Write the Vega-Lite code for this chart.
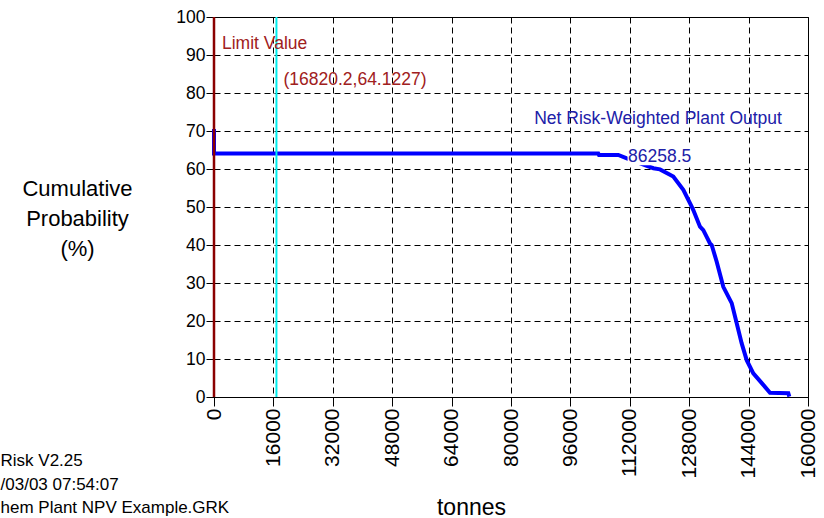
{
  "$schema": "https://vega.github.io/schema/vega-lite/v6.json",
  "width": 594,
  "height": 380,
  "autosize": {"type": "none"},
  "padding": {"left": 214, "top": 17, "right": 16, "bottom": 121},
  "background": "white",
  "config": {
    "font": "Liberation Sans",
    "view": {"stroke": "black", "strokeWidth": 1},
    "axis": {
      "domainColor": "black",
      "tickColor": "black",
      "labelColor": "black",
      "titleColor": "black",
      "titleFontWeight": "normal",
      "gridColor": "black",
      "gridOpacity": 1,
      "gridDash": [6, 4],
      "gridWidth": 1,
      "labelFlush": false,
      "labelOverlap": false
    }
  },
  "layer": [
    {
      "data": {"values": [
        {"i": 0, "tonnes": 0, "p": 70.5},
        {"i": 1, "tonnes": 0, "p": 64.1},
        {"i": 2, "tonnes": 103500, "p": 64.1},
        {"i": 3, "tonnes": 103700, "p": 63.7},
        {"i": 4, "tonnes": 108900, "p": 63.7},
        {"i": 5, "tonnes": 111200, "p": 62.8},
        {"i": 6, "tonnes": 118350, "p": 60.2},
        {"i": 7, "tonnes": 120135, "p": 59.9},
        {"i": 8, "tonnes": 123717, "p": 58.0},
        {"i": 9, "tonnes": 126411, "p": 54.5},
        {"i": 10, "tonnes": 128673, "p": 50.1},
        {"i": 11, "tonnes": 129104, "p": 49.2},
        {"i": 12, "tonnes": 130909, "p": 44.8},
        {"i": 13, "tonnes": 131798, "p": 43.9},
        {"i": 14, "tonnes": 133603, "p": 40.4},
        {"i": 15, "tonnes": 134061, "p": 40.0},
        {"i": 16, "tonnes": 135407, "p": 35.6},
        {"i": 17, "tonnes": 137185, "p": 29.0},
        {"i": 18, "tonnes": 139448, "p": 24.7},
        {"i": 19, "tonnes": 140795, "p": 19.4},
        {"i": 20, "tonnes": 142141, "p": 14.1},
        {"i": 21, "tonnes": 143488, "p": 9.7},
        {"i": 22, "tonnes": 145266, "p": 6.2},
        {"i": 23, "tonnes": 147960, "p": 3.2},
        {"i": 24, "tonnes": 149764, "p": 1.1},
        {"i": 25, "tonnes": 154694, "p": 1.0},
        {"i": 26, "tonnes": 154963, "p": 0.1}
      ]},
      "mark": {"type": "line", "color": "#0000ff", "strokeWidth": 4},
      "encoding": {
        "x": {
          "field": "tonnes",
          "type": "quantitative",
          "scale": {"domain": [0, 160000], "nice": false, "zero": false},
          "axis": {
            "values": [0, 16000, 32000, 48000, 64000, 80000, 96000, 112000, 128000, 144000, 160000],
            "format": "d",
            "labelAngle": 270,
            "labelFontSize": 21,
            "labelPadding": 2,
            "tickSize": 9,
            "grid": true,
            "title": "tonnes",
            "titleFontSize": 23,
            "titleX": 257,
            "titleY": 117,
            "titleAlign": "center",
            "titleBaseline": "alphabetic"
          }
        },
        "y": {
          "field": "p",
          "type": "quantitative",
          "scale": {"domain": [0, 100], "nice": false},
          "axis": {
            "values": [0, 10, 20, 30, 40, 50, 60, 70, 80, 90, 100],
            "labelFontSize": 17.5,
            "labelPadding": 1,
            "tickSize": 8,
            "grid": true,
            "title": ["Cumulative", "Probability", "(%)"],
            "titleFontSize": 22,
            "titleLineHeight": 30,
            "titleAngle": 0,
            "titleX": -137,
            "titleY": 178,
            "titleAlign": "center",
            "titleBaseline": "alphabetic"
          }
        },
        "order": {"field": "i", "type": "quantitative"}
      }
    },
    {
      "data": {"values": [{"tonnes": 0}]},
      "mark": {"type": "rule", "color": "#8b0000", "strokeWidth": 2.5},
      "encoding": {
        "x": {
          "field": "tonnes",
          "type": "quantitative",
          "scale": {"domain": [0, 160000], "nice": false, "zero": false},
          "axis": {
            "values": [0, 16000, 32000, 48000, 64000, 80000, 96000, 112000, 128000, 144000, 160000],
            "format": "d",
            "labelAngle": 270,
            "labelFontSize": 21,
            "labelPadding": 2,
            "tickSize": 9,
            "grid": true,
            "title": "tonnes",
            "titleFontSize": 23,
            "titleX": 257,
            "titleY": 117,
            "titleAlign": "center",
            "titleBaseline": "alphabetic"
          }
        }
      }
    },
    {
      "data": {"values": [{"tonnes": 16820.2}]},
      "mark": {"type": "rule", "color": "#00eeee", "strokeWidth": 2},
      "encoding": {
        "x": {
          "field": "tonnes",
          "type": "quantitative",
          "scale": {"domain": [0, 160000], "nice": false, "zero": false},
          "axis": {
            "values": [0, 16000, 32000, 48000, 64000, 80000, 96000, 112000, 128000, 144000, 160000],
            "format": "d",
            "labelAngle": 270,
            "labelFontSize": 21,
            "labelPadding": 2,
            "tickSize": 9,
            "grid": true,
            "title": "tonnes",
            "titleFontSize": 23,
            "titleX": 257,
            "titleY": 117,
            "titleAlign": "center",
            "titleBaseline": "alphabetic"
          }
        }
      }
    },
    {
      "data": {"values": [
        {"key": "val", "label": "86258.5", "tonnes": 111515, "p": 61.9},
        {"key": "net", "label": "Net Risk-Weighted Plant Output", "tonnes": 86258.5, "p": 71.8},
        {"key": "limit", "label": "Limit Value", "tonnes": 0, "p": 91.6},
        {"key": "pt", "label": "(16820.2,64.1227)", "tonnes": 16820.2, "p": 82.1},
        {"key": "foot", "label": "Risk V2.25\n/03/03 07:54:07\nhem Plant NPV Example.GRK", "tonnes": -57500, "p": -18.2},
        {"key": "box", "label": "", "tonnes": 111400, "p": 61.0, "tonnes2": 129200, "p2": 67.0}
      ]},
      "encoding": {
        "x": {
          "field": "tonnes",
          "type": "quantitative",
          "scale": {"domain": [0, 160000], "nice": false, "zero": false},
          "axis": {
            "values": [0, 16000, 32000, 48000, 64000, 80000, 96000, 112000, 128000, 144000, 160000],
            "format": "d",
            "labelAngle": 270,
            "labelFontSize": 21,
            "labelPadding": 2,
            "tickSize": 9,
            "grid": true,
            "title": "tonnes",
            "titleFontSize": 23,
            "titleX": 257,
            "titleY": 117,
            "titleAlign": "center",
            "titleBaseline": "alphabetic"
          }
        },
        "y": {
          "field": "p",
          "type": "quantitative",
          "scale": {"domain": [0, 100], "nice": false},
          "axis": {
            "values": [0, 10, 20, 30, 40, 50, 60, 70, 80, 90, 100],
            "labelFontSize": 17.5,
            "labelPadding": 1,
            "tickSize": 8,
            "grid": true,
            "title": ["Cumulative", "Probability", "(%)"],
            "titleFontSize": 22,
            "titleLineHeight": 30,
            "titleAngle": 0,
            "titleX": -137,
            "titleY": 178,
            "titleAlign": "center",
            "titleBaseline": "alphabetic"
          }
        }
      },
      "layer": [
        {
          "transform": [{"filter": "datum.key == 'box'"}],
          "mark": {"type": "rect", "color": "white", "opacity": 1},
          "encoding": {"x2": {"field": "tonnes2"}, "y2": {"field": "p2"}}
        },
        {
          "transform": [{"filter": "datum.key == 'val' || datum.key == 'net'"}],
          "mark": {"type": "text", "color": "#2020a8", "fontSize": 17.5, "align": "left", "baseline": "alphabetic"},
          "encoding": {"text": {"field": "label"}}
        },
        {
          "transform": [{"filter": "datum.key == 'limit'"}],
          "mark": {"type": "text", "color": "#a02020", "fontSize": 17.5, "align": "left", "baseline": "alphabetic", "dx": 8},
          "encoding": {"text": {"field": "label"}}
        },
        {
          "transform": [{"filter": "datum.key == 'pt'"}],
          "mark": {"type": "text", "color": "#a02020", "fontSize": 17.5, "align": "left", "baseline": "alphabetic", "dx": 7},
          "encoding": {"text": {"field": "label"}}
        },
        {
          "transform": [{"filter": "datum.key == 'foot'"}],
          "mark": {"type": "text", "color": "black", "fontSize": 17, "lineHeight": 23.5, "lineBreak": "\n", "align": "left", "baseline": "alphabetic"},
          "encoding": {"text": {"field": "label"}}
        }
      ]
    }
  ]
}
